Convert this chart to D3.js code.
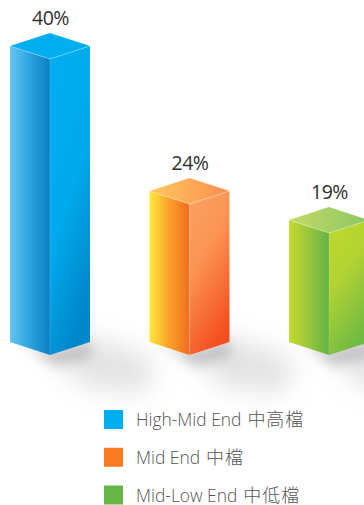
<!DOCTYPE html>
<html>
<head>
<meta charset="utf-8">
<script src="https://cdn.jsdelivr.net/npm/d3@7/dist/d3.min.js"></script>
<style>
html,body{margin:0;padding:0;background:#fff;overflow:hidden}
svg{display:block}
</style>
</head>
<body>
<svg id="chart" width="364" height="505"></svg>
<script>
// Market share by product tier
const categories = ["High-Mid End", "Mid End", "Mid-Low End"];
const categoriesZh = ["中高檔", "中檔", "中低檔"];
const values = [40, 24, 19];
const valueLabels = ["40%", "24%", "19%"];
const swatchColors = ["#00aeef", "#f97a22", "#66b646"];
// Per-tier face ramps
const leftRamps = [
  ["#62c5f1", "#2ba3dd", "#0a7fc4"],
  ["#ffe83c", "#fa9f2a", "#f26c1e"],
  ["#c6da2c", "#98c63c", "#62b446"]
];
const rightRamps = [
  ["#00aeef", "#00aaeb", "#0086cb"],
  ["#fca062", "#fb9454", "#f44f1f"],
  ["#bfd82c", "#b4d232", "#6fba44"]
];
const topRamps = [
  ["#00aeef", "#00aeef"],
  ["#ffc95f", "#f98d4e"],
  ["#c3da66", "#8dc663"]
];

const svg = d3.select("#chart");
const defs = svg.append("defs");

// Column layout
const halfWidth = 40, rise = 13;
const x = d3.scalePoint().domain(categories).range([50, 329]);
// Column heights follow the tiers unevenly, so the axis is piecewise
const y = d3.scaleLinear().domain([0, 19, 24, 40]).range([355, 233, 204, 59]);

defs.append("filter").attr("id", "soft").attr("x", "-60%").attr("y", "-120%").attr("width", "220%").attr("height", "340%")
  .append("feGaussianBlur").attr("stdDeviation", 13);
defs.append("filter").attr("id", "softNear").attr("x", "-40%").attr("y", "-120%").attr("width", "180%").attr("height", "340%")
  .append("feGaussianBlur").attr("stdDeviation", 6);

function ramp(id, stops, offsets, x1, y1, x2, y2) {
  const g = defs.append("linearGradient").attr("id", id)
    .attr("x1", x1).attr("y1", y1).attr("x2", x2).attr("y2", y2);
  stops.forEach((c, i) => g.append("stop").attr("offset", offsets[i]).attr("stop-color", c));
}
categories.forEach((c, i) => {
  ramp("left" + i, leftRamps[i], [0, 0.5, 1], 0, 0, 1, 0);
  ramp("right" + i, rightRamps[i], i === 0 ? [0, 0.55, 1] : [0, 0.42, 1], 0.1, 0, 0.5, 1);
  ramp("top" + i, topRamps[i], [0, 1], 0, 0, 1, 0);
});

// Ground shadows sit beneath every column
const shadows = svg.append("g");
categories.forEach((c, i) => {
  const cx = x(c), base = y(0);
  const wide = [[cx - 5, base - 8], [cx + halfWidth, base - 18], [cx + 105, base + 4], [cx + 95, base + 38], [cx + 35, base + 32]];
  shadows.append("polygon").attr("points", wide.join(" "))
    .attr("fill", "#d2d0d2").attr("opacity", 0.62).attr("filter", "url(#soft)");
  const near = [[cx - 28, base - 12], [cx, base - 4], [cx + halfWidth, base - 14], [cx + 42, base + 2], [cx + 5, base + 11]];
  shadows.append("polygon").attr("points", near.join(" "))
    .attr("fill", "#b5b2b6").attr("opacity", 0.72).attr("filter", "url(#softNear)");
});

// Columns
const columns = svg.append("g").selectAll("g").data(categories).join("g");
columns.each(function (c, i) {
  const g = d3.select(this);
  const cx = x(c), front = y(values[i]), base = y(0);
  const L = cx - halfWidth, R = cx + halfWidth;
  g.append("polygon").attr("fill", `url(#left${i})`)
    .attr("points", [[L, front - rise], [cx, front], [cx, base], [L, base - rise]].join(" "));
  g.append("polygon").attr("fill", `url(#right${i})`)
    .attr("points", [[cx, front], [R, front - rise], [R, base - rise], [cx, base]].join(" "));
  g.append("polygon").attr("fill", `url(#top${i})`)
    .attr("points", [[cx, front - 2 * rise], [R, front - rise], [cx, front], [L, front - rise]].join(" "));
  // Pale highlights along the front edges
  g.append("path").attr("fill", "none").attr("stroke", "#fff").attr("stroke-opacity", 0.35).attr("stroke-width", 0.8)
    .attr("d", d3.line()([[L, front - rise], [cx, front], [R, front - rise]]));
  g.append("path").attr("fill", "none").attr("stroke", "#fff").attr("stroke-opacity", 0.2).attr("stroke-width", 0.8)
    .attr("d", d3.line()([[cx, front], [cx, base]]));
  g.append("text")
    .attr("x", cx + 0.5).attr("y", front - 2 * rise - 8.5)
    .attr("text-anchor", "middle")
    .attr("font-family", "'Open Sans','Noto Sans',sans-serif")
    .attr("font-size", 19.5).attr("letter-spacing", -0.5).attr("fill", "#2f2f2f")
    .text(valueLabels[i]);
});

// Legend
const legendY = d3.scalePoint().domain(categories).range([419.5, 495]);
const legend = svg.append("g").selectAll("g").data(categories).join("g")
  .attr("transform", c => `translate(0,${legendY(c)})`);
legend.append("rect").attr("x", 104).attr("y", -9.5).attr("width", 19).attr("height", 19)
  .attr("fill", (c, i) => swatchColors[i]);
const legendText = legend.append("text").attr("x", 136).attr("y", 6.5)
  .attr("font-family", "'Open Sans','Noto Sans CJK TC',sans-serif")
  .attr("font-weight", 300)
  .attr("font-size", 17.4).attr("fill", "#555");
legendText.append("tspan").text(c => c);
legendText.append("tspan").attr("dx", 6)
  .attr("font-family", "'Noto Sans CJK TC',sans-serif")
  .attr("font-size", 18).attr("letter-spacing", 1)
  .text((c, i) => categoriesZh[i]);
</script>
</body>
</html>
